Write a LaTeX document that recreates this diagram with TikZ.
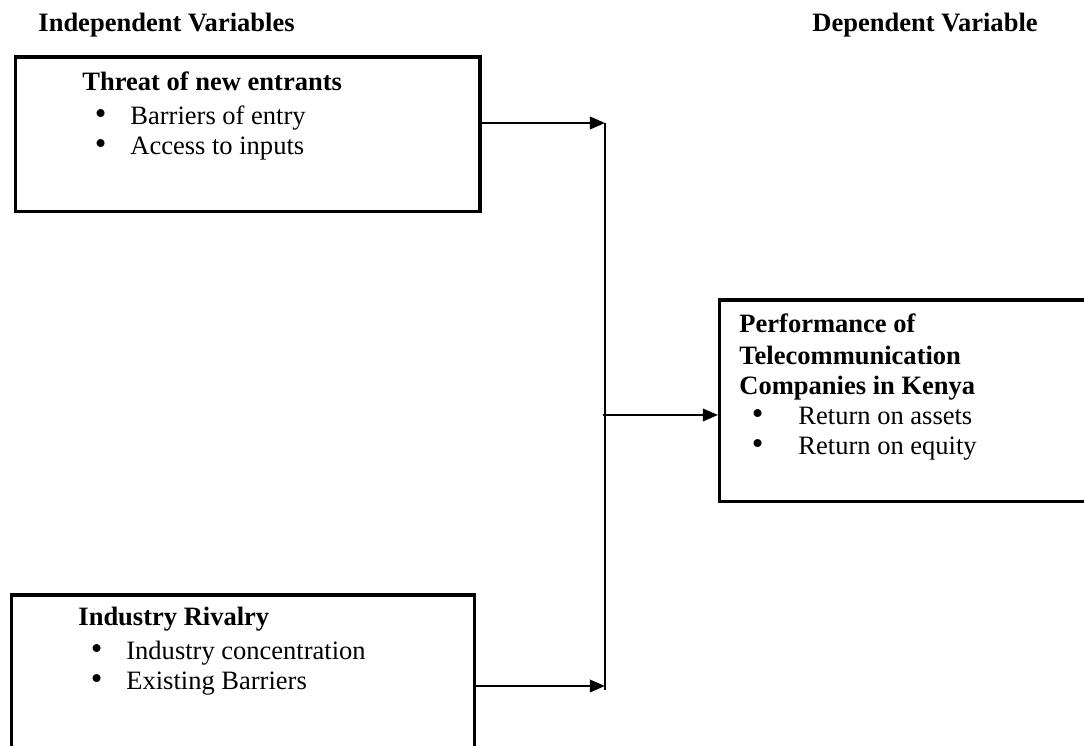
\documentclass[tikz,border=0pt]{standalone}
\usepackage{fontspec}
\setmainfont{Liberation Serif}
\usepackage{tikz}
\usetikzlibrary{arrows.meta}
\tikzset{
        varbox/.style = {rectangle, draw=black, line width=1.4pt, inner sep=0pt,
            anchor=north west},
        vartext/.style = {align=left, inner sep=0pt, anchor=base west,
            font=\fontsize{12}{13.6}\selectfont},
        head/.style = {inner sep=0pt, anchor=base west,
            font=\fontsize{12}{13.6}\selectfont\bfseries},
        link/.style = {line width=1pt}
    }
\newcommand{\bul}[2][21.7pt]{\makebox[#1][l]{\hspace{5.6pt}\scalebox{1.25}{\textbullet}}#2}

\begin{document}
\begin{tikzpicture}[x=0.4525pt, y=-0.4525pt, >={Triangle[length=6.8pt,width=5.6pt]}]
            \useasboundingbox (0,0) rectangle (1084,746);
            \clip (0,0) rectangle (1084,746);
            % headings
            \node [head] (indep) at (38,32) {Independent Variables};
            \node [head] (dep) at (812,32) {Dependent Variable};
            % boxes
            \node [varbox, minimum width=210.4pt, minimum height=69.7pt] (entrants) at (13.5,55.5) {};
            \node [varbox, minimum width=209.5pt, minimum height=75.3pt] (rivalry) at (10,593.5) {};
            \node [varbox, minimum width=172.9pt, minimum height=91.2pt] (perf) at (718,298.5) {};
            % box texts (base = last line)
            \node [vartext] (entrantstext) at (82,155) {\textbf{Threat of new entrants}\\[1.8pt]
                \bul{Barriers of entry}\\ \bul{Access to inputs}};
            \node [vartext] (rivalrytext) at (78,690) {\textbf{Industry Rivalry}\\[1.8pt]
                \bul{Industry concentration}\\ \bul{Existing Barriers}};
            \node [vartext] (perftext) at (739,455) {\textbf{Performance of}\\[0.9pt]
                \textbf{Telecommunication}\\ \textbf{Companies in Kenya}\\
                \bul[26.7pt]{Return on assets}\\ \bul[26.7pt]{Return on equity}};
            % connectors
            \coordinate (jtop) at (605,123);
            \coordinate (jbot) at (605,690);
            \coordinate (jmid) at (603,415);
            \draw [link, ->] (entrants.east |- jtop) -- (jtop);
            \draw [link, ->] (rivalry.east |- 0,686) -- (jbot |- 0,686);
            \draw [link] (jtop) -- (jbot);
            \draw [link, ->] (jmid) -- (perf.west |- jmid);
\end{tikzpicture}
\end{document}
